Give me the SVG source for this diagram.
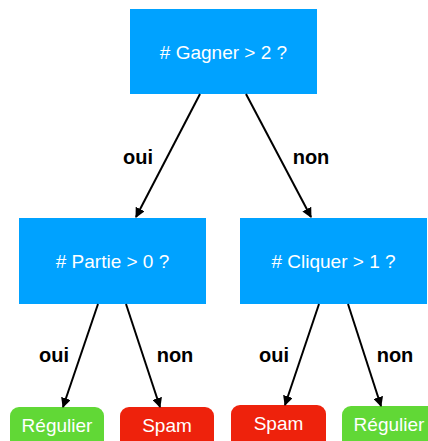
<svg xmlns="http://www.w3.org/2000/svg" width="428" height="441" viewBox="0 0 428 441">
<style>
.q{fill:#00a2ff}
.g{fill:#61d836}
.r{fill:#ee220c}
.t{font-family:"Liberation Sans",Arial,sans-serif;font-size:19px;fill:#fff;text-anchor:middle}
.l{font-family:"Liberation Sans",Arial,sans-serif;font-size:20px;font-weight:bold;fill:#000;text-anchor:middle}
.c{stroke:#000;stroke-width:2;fill:none;marker-end:url(#a)}
</style>
<defs>
<marker id="a" viewBox="0 0 10 10" refX="9" refY="5" markerWidth="5" markerHeight="5" orient="auto" markerUnits="strokeWidth">
<path d="M0,0 L10,5 L0,10 z" fill="#000"/>
</marker>
</defs>
<g id="n-gagner"><rect class="q" x="130" y="9" width="187" height="85"/><text class="t" x="223.5" y="59"># Gagner &gt; 2 ?</text></g>
<g id="n-partie"><rect class="q" x="19" y="218" width="187" height="86"/><text class="t" x="112.5" y="268"># Partie &gt; 0 ?</text></g>
<g id="n-cliquer"><rect class="q" x="240" y="218" width="187" height="86"/><text class="t" x="333.5" y="268"># Cliquer &gt; 1 ?</text></g>
<g id="n-reg1"><rect class="g" x="10" y="407" width="94" height="46" rx="9"/><text class="t" x="57" y="432">Régulier</text></g>
<g id="n-spam1"><rect class="r" x="120" y="407" width="94" height="46" rx="9"/><text class="t" x="167" y="432">Spam</text></g>
<g id="n-spam2"><rect class="r" x="231" y="405" width="95" height="46" rx="9"/><text class="t" x="278.5" y="430">Spam</text></g>
<g id="n-reg2"><rect class="g" x="342" y="406" width="94" height="46" rx="9"/><text class="t" x="389" y="431">Régulier</text></g>
<g id="connectors">
<line class="c" x1="200" y1="94" x2="136" y2="217"/>
<line class="c" x1="246" y1="94" x2="311" y2="217"/>
<line class="c" x1="98" y1="304" x2="63" y2="407"/>
<line class="c" x1="126" y1="304" x2="160" y2="407"/>
<line class="c" x1="319" y1="304" x2="285" y2="405"/>
<line class="c" x1="348" y1="304" x2="381" y2="406"/>
<text class="l" x="138" y="164">oui</text>
<text class="l" x="311" y="164">non</text>
<text class="l" x="54" y="362">oui</text>
<text class="l" x="175" y="362">non</text>
<text class="l" x="274" y="362">oui</text>
<text class="l" x="395" y="362">non</text>
</g>
</svg>
